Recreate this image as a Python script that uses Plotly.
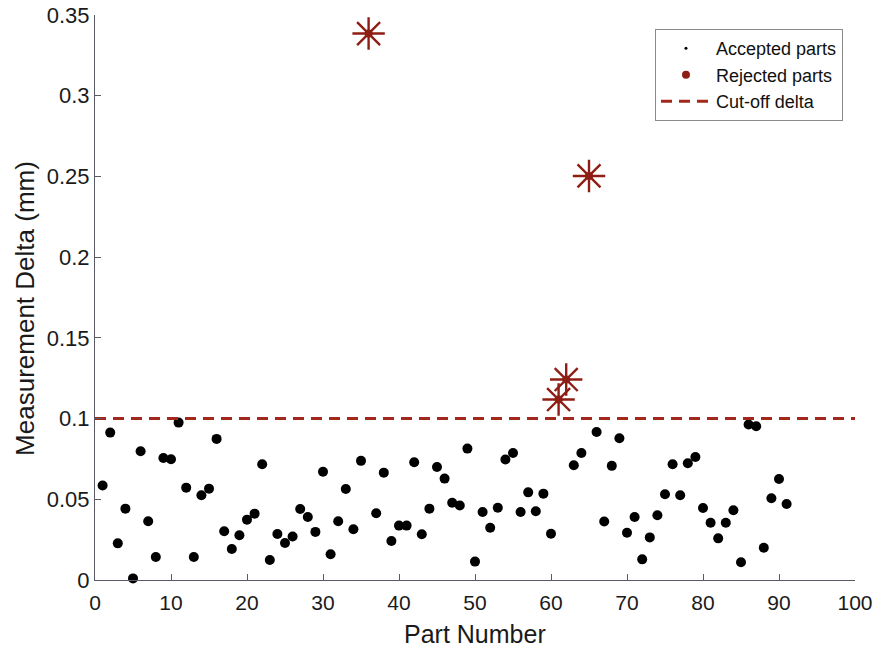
import plotly.graph_objects as go

# Parts that passed inspection: part number and measured delta (mm)
accepted_parts = [1, 2, 3, 4, 5, 6, 7, 8, 9, 10, 11, 12, 13, 14, 15, 16, 17, 18, 19, 20,
                  21, 22, 23, 24, 25, 26, 27, 28, 29, 30, 31, 32, 33, 34, 35, 37, 38, 39, 40,
                  41, 42, 43, 44, 45, 46, 47, 48, 49, 50, 51, 52, 53, 54, 55, 56, 57, 58, 59,
                  60, 63, 64, 66, 67, 68, 69, 70, 71, 72, 73, 74, 75, 76, 77, 78, 79, 80, 81,
                  82, 83, 84, 85, 86, 87, 88, 89, 90, 91]
accepted_delta = [0.0585, 0.0913, 0.0227, 0.0442, 0.0010, 0.0798, 0.0364, 0.0143, 0.0756, 0.0748,
                  0.0975, 0.0572, 0.0143, 0.0525, 0.0566, 0.0874, 0.0302, 0.0192, 0.0277, 0.0374,
                  0.0411, 0.0717, 0.0124, 0.0285, 0.0229, 0.0269, 0.0440, 0.0390, 0.0298, 0.0671,
                  0.0159, 0.0364, 0.0564, 0.0314, 0.0738, 0.0413, 0.0665, 0.0242, 0.0337,
                  0.0337, 0.0729, 0.0283, 0.0442, 0.0700, 0.0628, 0.0479, 0.0461, 0.0814, 0.0114,
                  0.0421, 0.0324, 0.0448, 0.0746, 0.0787, 0.0421, 0.0543, 0.0426, 0.0535,
                  0.0287, 0.0711, 0.0787, 0.0917, 0.0362, 0.0707, 0.0878, 0.0293, 0.0390, 0.0128,
                  0.0264, 0.0401, 0.0531, 0.0717, 0.0525, 0.0723, 0.0762, 0.0446, 0.0355,
                  0.0258, 0.0355, 0.0432, 0.0110, 0.0963, 0.0952, 0.0200, 0.0506, 0.0626, 0.0471]

# Parts that exceeded the cut-off
rejected_parts = [36, 61, 62, 65]
rejected_delta = [0.3385, 0.1118, 0.1242, 0.2503]

cutoff_delta = 0.1
x_limits = [0, 100]
y_limits = [0, 0.35]
x_ticks = [0, 10, 20, 30, 40, 50, 60, 70, 80, 90, 100]
y_ticks = [0, 0.05, 0.1, 0.15, 0.2, 0.25, 0.3, 0.35]
y_tick_text = ["0", "0.05", "0.1", "0.15", "0.2", "0.25", "0.3", "0.35"]

RED = "#a3281c"
STAR = "#8e1e14"
INK = "#1a1a1a"
FONT = "Liberation Sans, Arial, sans-serif"

fig = go.Figure()

# accepted parts: large dots on the plot, small dot in the legend
fig.add_trace(go.Scatter(
    x=accepted_parts, y=accepted_delta, mode="markers",
    marker=dict(color="black", size=10), showlegend=False, cliponaxis=False))
fig.add_trace(go.Scatter(
    x=[None], y=[None], mode="markers", name="Accepted parts",
    marker=dict(color="black", size=3)))

# rejected parts: asterisks with a filled centre
fig.add_trace(go.Scatter(
    x=rejected_parts, y=rejected_delta, mode="markers", showlegend=False,
    marker=dict(symbol="asterisk-open", size=27, color=STAR,
                line=dict(color=STAR, width=2.4)), cliponaxis=False))
fig.add_trace(go.Scatter(
    x=rejected_parts, y=rejected_delta, mode="markers", name="Rejected parts",
    marker=dict(color=STAR, size=8), cliponaxis=False))

# cut-off line across the full x range
fig.add_trace(go.Scatter(
    x=x_limits, y=[cutoff_delta, cutoff_delta], mode="lines", name="Cut-off delta",
    line=dict(color=RED, width=3, dash="11px,7px")))

axis_common = dict(
    showgrid=False, zeroline=False, showline=True, linecolor="#5a5a66", linewidth=1.2,
    ticks="inside", ticklen=6, tickcolor="#5a5a66", mirror=False,
)

fig.update_layout(
    width=879, height=650,
    margin=dict(l=95, r=24, t=15, b=70, autoexpand=False),
    paper_bgcolor="white", plot_bgcolor="white",
    font=dict(family=FONT, color=INK),
    xaxis=dict(range=x_limits, tickvals=x_ticks, ticklabelstandoff=4,
               tickfont=dict(family=FONT, size=21, color=INK),
               **axis_common),
    yaxis=dict(range=y_limits, tickvals=y_ticks, ticktext=y_tick_text,
               tickfont=dict(family=FONT, size=22, color=INK),
               **axis_common),
    legend=dict(x=0.9842, y=0.975, xanchor="right", yanchor="top",
                bgcolor="white", bordercolor="#8a8a8a", borderwidth=1,
                font=dict(family=FONT, size=18, color="#111111"),
                tracegroupgap=0, itemwidth=50),
    annotations=[
        dict(text="Part Number", xref="paper", yref="paper", x=0.5, y=-0.096,
             xanchor="center", yanchor="middle", showarrow=False,
             font=dict(family=FONT, size=25, color=INK)),
        dict(text="Measurement Delta (mm)", xref="paper", yref="paper", x=-0.092, y=0.48,
             xanchor="center", yanchor="middle", textangle=-90, showarrow=False,
             font=dict(family=FONT, size=26, color=INK)),
    ],
)

fig.write_html("out.html")
